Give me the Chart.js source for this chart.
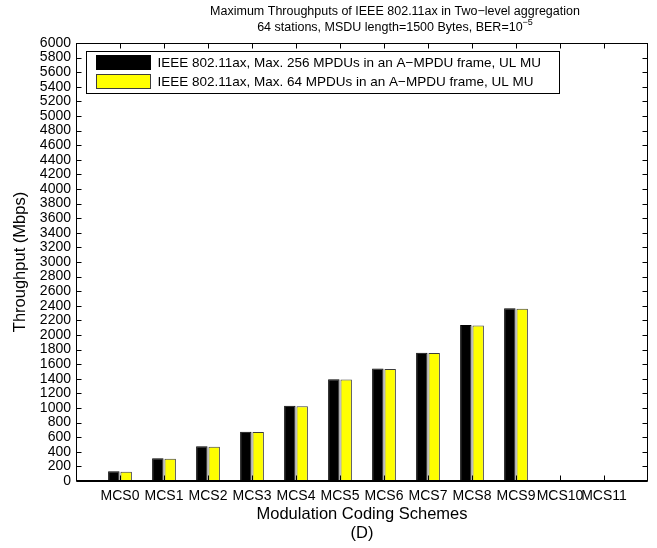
<!DOCTYPE html>
<html lang="en">
<head>
<meta charset="UTF-8" />
<title>Maximum Throughputs of IEEE 802.11ax</title>
<script src="https://cdn.jsdelivr.net/npm/chart.js@4.4.0/dist/chart.umd.min.js"></script>
<style>
  html, body { margin: 0; padding: 0; background: #fff; }
</style>
</head>
<body>
<canvas id="chart" width="657" height="548"></canvas>
<script>
const categories = ["MCS0", "MCS1", "MCS2", "MCS3", "MCS4", "MCS5", "MCS6", "MCS7", "MCS8", "MCS9", "MCS10", "MCS11"];
const max256 = [135, 310, 475, 675, 1030, 1395, 1540, 1758, 2137, 2365, 0, 0];
const max64 = [128, 305, 470, 670, 1025, 1390, 1535, 1752, 2130, 2360, 0, 0];
const seriesLabels = [
  "IEEE 802.11ax, Max. 256 MPDUs in an A\u2212MPDU frame, UL MU",
  "IEEE 802.11ax, Max. 64 MPDUs in an A\u2212MPDU frame, UL MU"
];
const titleLines = [
  "Maximum Throughputs of IEEE 802.11ax in Two\u2212level aggregation",
  "64 stations, MSDU length=1500 Bytes, BER=10"
];
const titleExponent = "\u22125";
const yMax = 6000;
const yStep = 200;

const FONT = '"Liberation Sans", Arial, sans-serif';

// box, inward ticks, title and legend the way the original figure has them
const frame = {
  id: "frame",
  afterDraw(chart) {
    const { ctx, chartArea: a, scales: { x, y } } = chart;
    const L = Math.round(a.left) + 0.5, R = Math.round(a.right) - 0.5;
    const T = Math.round(a.top) + 0.5, B = Math.round(a.bottom) - 0.5;
    ctx.save();
    ctx.strokeStyle = "#000";
    ctx.lineWidth = 1;
    ctx.beginPath();
    y.ticks.forEach((t) => {
      const py = Math.round(y.getPixelForValue(t.value)) + 0.5;
      ctx.moveTo(L, py); ctx.lineTo(L + 5, py);
      ctx.moveTo(R, py); ctx.lineTo(R - 5, py);
    });
    categories.forEach((c, i) => {
      const px = Math.round(x.getPixelForValue(i + 1)) + 0.5;
      ctx.moveTo(px, B); ctx.lineTo(px, B - 5);
      ctx.moveTo(px, T); ctx.lineTo(px, T + 5);
    });
    ctx.stroke();
    ctx.strokeRect(L, T, R - L, B - T);
    // bar baseline
    ctx.lineWidth = 2;
    ctx.beginPath();
    const by = Math.round(y.getPixelForValue(0));
    ctx.moveTo(L, by); ctx.lineTo(R, by);
    ctx.stroke();

    // title (sits a bit right of the axes centre in the original)
    const cx = (a.left + a.right) / 2 + 33;
    ctx.fillStyle = "#000";
    ctx.textBaseline = "middle";
    ctx.font = "12.5px " + FONT;
    ctx.textAlign = "center";
    ctx.fillText(titleLines[0], cx, 12);
    const w1 = ctx.measureText(titleLines[1]).width;
    ctx.font = "9px " + FONT;
    const w2 = ctx.measureText(titleExponent).width;
    const sx = cx - (w1 + w2) / 2;
    ctx.textAlign = "left";
    ctx.font = "12.5px " + FONT;
    ctx.fillText(titleLines[1], sx, 28);
    ctx.font = "9px " + FONT;
    ctx.fillText(titleExponent, sx + w1, 23);

    // legend
    ctx.font = "13.5px " + FONT;
    const ds = chart.data.datasets;
    const tw = Math.max(...ds.map((d) => ctx.measureText(d.label).width));
    const lx = Math.round(a.left) + 10.5, ly = Math.round(a.top) + 8.5;
    const lw = Math.round(tw + 81 + 8), lh = 42;
    ctx.fillStyle = "#fff";
    ctx.fillRect(lx, ly, lw, lh);
    ctx.lineWidth = 1;
    ctx.strokeStyle = "#000";
    ctx.strokeRect(lx, ly, lw, lh);
    ds.forEach((d, i) => {
      const ry = ly + 4 + i * 19;
      ctx.fillStyle = d.backgroundColor;
      ctx.fillRect(lx + 10, ry, 54, 14);
      ctx.strokeStyle = d.borderColor;
      ctx.strokeRect(lx + 10, ry, 54, 14);
      ctx.fillStyle = "#000";
      ctx.textAlign = "left";
      ctx.fillText(d.label, lx + 71, ry + 7.5);
    });
    ctx.restore();
  }
};

new Chart(document.getElementById("chart"), {
  type: "bar",
  data: {
    datasets: [
      {
        label: seriesLabels[0],
        data: categories.map((c, i) => ({ x: i + 1, y: max256[i] })),
        backgroundColor: "#000000",
        borderColor: "#000000",
        borderWidth: 1
      },
      {
        label: seriesLabels[1],
        data: categories.map((c, i) => ({ x: i + 1, y: max64[i] })),
        backgroundColor: "#ffff00",
        borderColor: "#3c3c3c",
        borderWidth: 1
      }
    ]
  },
  options: {
    responsive: false,
    animation: false,
    devicePixelRatio: 1,
    datasets: { bar: { categoryPercentage: 0.56, barPercentage: 0.93 } },
    layout: { padding: { top: 43, right: 9, bottom: 0, left: 0 } },
    plugins: {
      legend: { display: false },
      title: { display: false },
      tooltip: { enabled: false }
    },
    scales: {
      x: {
        type: "linear",
        min: 0,
        max: categories.length + 1,
        offset: false,
        grid: { display: false, drawTicks: false },
        border: { display: false },
        ticks: {
          stepSize: 1,
          autoSkip: false,
          maxRotation: 0,
          padding: 7,
          color: "#000",
          font: { family: FONT, size: 14 },
          callback: (v) => categories[v - 1] || ""
        },
        title: {
          display: true,
          text: ["Modulation Coding Schemes", "(D)"],
          color: "#000",
          font: { family: FONT, size: 16.5, lineHeight: 1.15 },
          padding: { top: 0, bottom: 5 }
        },
        afterFit(s) { s.height = 67; }
      },
      y: {
        min: 0,
        max: yMax,
        grid: { display: false, drawTicks: false },
        border: { display: false },
        ticks: {
          stepSize: yStep,
          autoSkip: false,
          padding: 5,
          color: "#000",
          font: { family: FONT, size: 14 },
          callback: (v) => String(v)
        },
        title: {
          display: true,
          text: "Throughput (Mbps)",
          color: "#000",
          font: { family: FONT, size: 16.5, lineHeight: 1.2 },
          padding: { top: 11, bottom: 0 }
        },
        afterFit(s) { s.width = 76; }
      }
    }
  },
  plugins: [frame]
});
</script>
</body>
</html>
